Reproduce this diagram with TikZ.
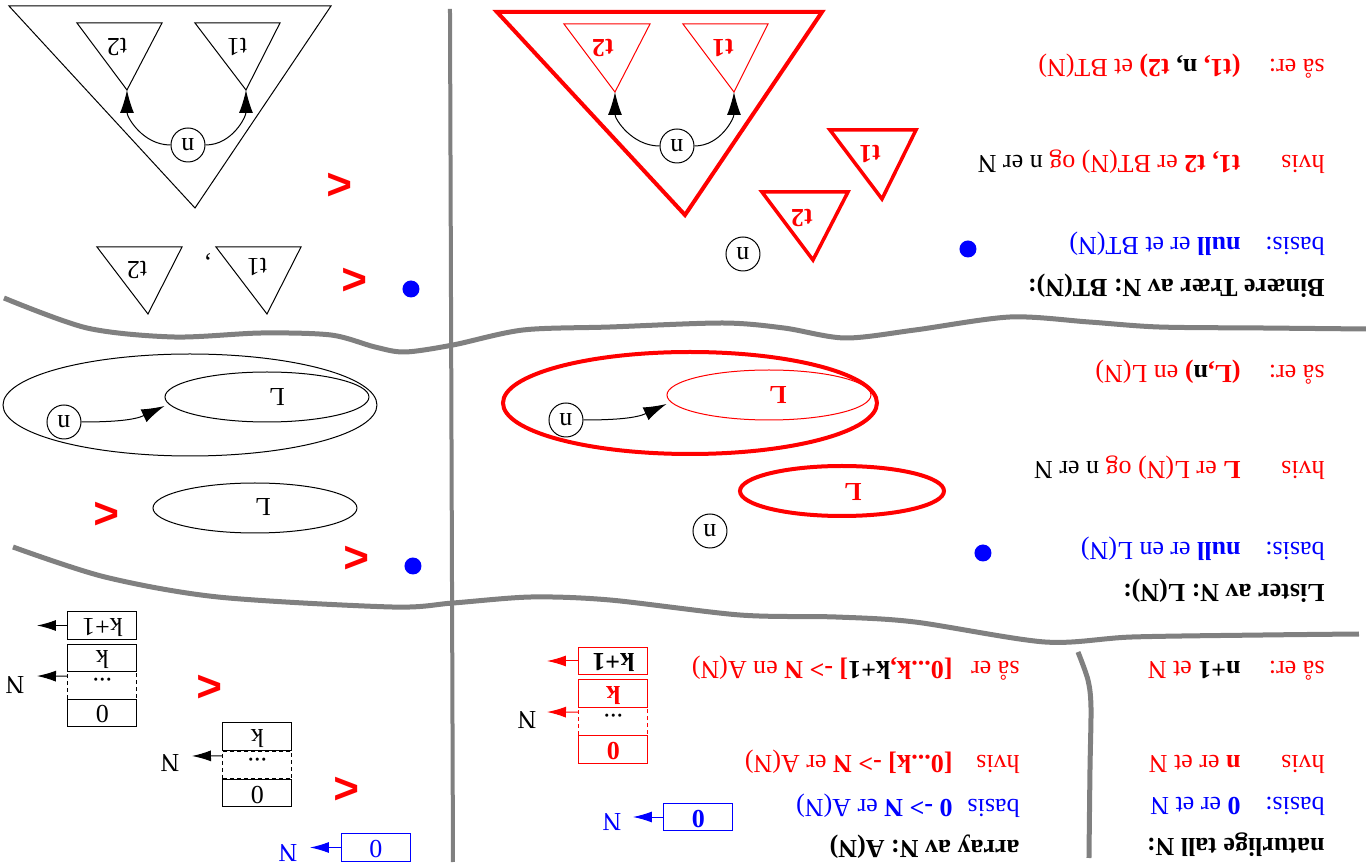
\documentclass[tikz,border=0pt]{standalone}
\usepackage{fontspec}
\setmainfont{Liberation Serif}[Scale=1.3]
\setsansfont{Liberation Sans}
\usetikzlibrary{arrows.meta,shapes.geometric}
\definecolor{skille}{HTML}{808080}

\begin{document}
\begin{tikzpicture}[x=0.5pt,y=0.5pt,rotate=180,transform shape,
    txt/.style={anchor=base west,inner sep=0pt},
    pil/.style={-{Latex[length=9.5pt,width=5.5pt]},line width=0.5pt},
    pilstor/.style={-{Latex[length=11.5pt,width=7pt]},line width=0.5pt},
    celle/.style={draw,minimum width=34.5pt,minimum height=13.75pt,inner sep=0pt,text height=9pt,text depth=2pt,line width=0.5pt},
    prikket/.style={dash pattern=on 2pt off 1.5pt},
    prikk/.style={circle,fill=blue,minimum size=8.5pt,inner sep=0pt},
    nod/.style={circle,draw,minimum size=17pt,inner sep=0pt,line width=0.5pt},
    liste/.style={ellipse,draw,minimum width=102pt,minimum height=25pt,inner sep=0pt},
    stor/.style={ellipse,draw,minimum width=187pt,minimum height=51pt,inner sep=0pt},
    mindre/.style={red,font=\sffamily\bfseries\fontsize{22}{22}\selectfont},
    skillelinje/.style={skille,line width=2.5pt}]
  \useasboundingbox (0,0) rectangle (1366,865);

  % skillelinjer
  \draw[skillelinje,line width=2pt] (916,9) -- (913,862);
  \draw[skillelinje] plot[smooth] coordinates {(1362,298) (1279,328) (1192,337) (1105,333) (1035,335) (991,347) (961,352) (913,345) (843,330) (756,327) (643,323) (582,328) (521,338) (451,330) (356,317) (277,322) (207,327) (103,328) (0,329)};
  \draw[skillelinje] plot[smooth] coordinates {(1353,547) (1261,577) (1148,597) (974,607) (913,603) (835,597) (756,600) (626,615) (530,617) (451,622) (321,642) (234,637) (103,635) (7,634)};
  \draw[skillelinje] plot[smooth] coordinates {(288,652) (278,680) (275,707) (276,770) (277,858)};

  % naturlige tall
  \node[txt,font=\bfseries] (nat) at (41,838) {naturlige tall N:};
  \node[txt,blue] (natb) at (41,798) {basis:};
  \node[txt,blue] (natbv) at (125,798) {\textbf{0} er et N};
  \node[txt,red] (nath) at (41,755) {hvis};
  \node[txt,red] (nathv) at (125,755) {\textbf{n} er et N};
  \node[txt,red] (nats) at (41,662) {så er:};
  \node[txt,red] (natsv) at (125,662) {\textbf{\color{black}n+1} et N};

  % array av N
  \node[txt,font=\bfseries] (arrt) at (346,840) {array av N: A(N)};
  \node[txt,blue] (arrb) at (346,799) {basis};
  \node[txt,blue] (arrbv) at (413,799) {\textbf{0 -> N} er A(N)};
  \node[txt,red] (arrh) at (346,755) {hvis};
  \node[txt,red] (arrhv) at (413,755) {\textbf{[0...k] -> N} er A(N)};
  \node[txt,red] (arrs) at (346,662) {så er};
  \node[txt,red] (arrsv) at (413,662) {\textbf{[0...k,{\color{black}k+1}] -> N} en A(N)};

  \node[celle,blue,font=\bfseries] (b0) at (667.5,817) {0};
  \coordinate (b0N) at (733,817);
  \draw[pil,blue] (b0.east) -- (b0N);
  \node[blue] (bN) at (754,822) {N};

  \node[celle,red,prikket] (rprikk) at (752.5,721.5) {\color{black}...};
  \node[celle,red,font=\bfseries] (r0) at (752.5,749.5) {0};
  \node[celle,red,font=\bfseries] (rk) at (752.5,693.5) {k};
  \node[celle,red,font=\bfseries,text=black] (rk1) at (752.5,661) {k+1};
  \coordinate (rN1) at (819,661);
  \coordinate (rN2) at (819,712);
  \draw[pil,red] (rk1.east) -- (rN1);
  \draw[pil,red] ([yshift=2.5pt]rprikk.south east) -- (rN2);
  \node (rN) at (839,720) {N};

  \node[celle,blue] (s0) at (990,847.5) {0};
  \coordinate (s0N) at (1056,847.5);
  \draw[pil,blue] (s0.east) -- (s0N);
  \node[blue] (sN) at (1078,853) {N};
  \node[mindre] (m1) at (1019,788) {<};

  \node[celle,prikket] (tprikk) at (1108.5,765) {...};
  \node[celle] (t0) at (1108.5,793) {0};
  \node[celle] (tk) at (1108.5,736.5) {k};
  \coordinate (tN1) at (1174,756);
  \draw[pil] ([yshift=2.5pt]tprikk.south east) -- (tN1);
  \node (tN) at (1196,763) {N};
  \node[mindre] (m2) at (1156,686) {<};

  \node[celle,prikket] (uprikk) at (1263.5,685.5) {...};
  \node[celle] (u0) at (1263.5,713) {0};
  \node[celle] (uk) at (1263.5,658) {k};
  \node[celle] (uk1) at (1263.5,625.5) {k+1};
  \coordinate (uN1) at (1329,625.5);
  \coordinate (uN2) at (1329,676);
  \draw[pil] (uk1.east) -- (uN1);
  \draw[pil] ([yshift=2.5pt]uprikk.south east) -- (uN2);
  \node (uN) at (1351,685) {N};

  % lister av N
  \node[txt,font=\bfseries] (lst) at (41,585) {Lister av N: L(N):};
  \node[txt,blue] (lstb) at (41,543) {basis:};
  \node[txt,blue] (lstbv) at (125,543) {\textbf{null} er en L(N)};
  \node[txt,red] (lsth) at (41,462) {hvis};
  \node[txt,red] (lsthv) at (125,462) {\textbf{L} er L(N) og {\color{black}n er N}};
  \node[txt,red] (lsts) at (41,366) {så er:};
  \node[txt,red] (lstsv) at (125,366) {\textbf{(L,{\color{black}n})} en L(N)};

  \node[prikk] (lp1) at (383,553) {};
  \node[nod] (ln1) at (656,531) {n};
  \node[liste,red,line width=2pt] (ll1) at (524,491) {};
  \node[red,font=\bfseries] (ll1t) at (513,492) {L};

  \node[stor,red,line width=2pt] (ls1) at (676,403) {};
  \node[liste,red,line width=0.5pt] (ll2) at (597,395) {};
  \node[red,font=\bfseries] (ll2t) at (588,395) {L};
  \node[nod] (ln2) at (800,420) {n};
  \draw[pilstor] (ln2.west) to[out=180,in=25] ([yshift=4.5pt]ll2.east);

  \node[prikk] (lp2) at (953,566) {};
  \node[mindre] (m3) at (1009,557) {<};
  \node[liste,line width=0.5pt] (ll3) at (1111,508) {};
  \node (ll3t) at (1103,507) {L};
  \node[mindre] (m4) at (1259,513) {<};

  \node[stor,line width=0.5pt] (ls2) at (1176,405) {};
  \node[liste,line width=0.5pt] (ll4) at (1099,397) {};
  \node (ll4t) at (1089,397) {L};
  \node[nod] (ln3) at (1302,422) {n};
  \draw[pilstor] (ln3.west) to[out=180,in=25] ([yshift=4.5pt]ll4.east);

  % binaere traer av N
  \node[txt,font=\bfseries] (bt) at (41,280) {Binære Trær av N: BT(N):};
  \node[txt,blue] (btb) at (41,238) {basis:};
  \node[txt,blue] (btbv) at (125,238) {\textbf{null} er et BT(N)};
  \node[txt,red] (bth) at (41,156) {hvis};
  \node[txt,red] (bthv) at (125,156) {\textbf{t1, t2} er BT(N) og {\color{black}n er N}};
  \node[txt,red] (bts) at (41,60) {så er:};
  \node[txt,red] (btsv) at (125,60) {\textbf{(t1, {\color{black}n,} t2)} et BT(N)};

  \node[prikk] (bp1) at (398,249) {};
  \node[nod] (bn1) at (623,254) {n};
  \draw[red,line width=1.75pt] (518,192) -- (604,192) -- (553,260) -- cycle;
  \node[red,font=\bfseries] (bt2a) at (564,218) {t2};
  \draw[red,line width=1.75pt] (450,130) -- (536,130) -- (484,199) -- cycle;
  \node[red,font=\bfseries] (bt1a) at (496,154) {t1};

  \draw[red,line width=2pt] (544,12) -- (869,12) -- (681,215) -- cycle;
  \draw[red,line width=0.5pt] (598,24) -- (683,24) -- (632,92) coordinate (rt1top) -- cycle;
  \draw[red,line width=0.5pt] (716,24) -- (802,24) -- (751,92) coordinate (rt2top) -- cycle;
  \node[red,font=\bfseries] (bt1b) at (643,48) {t1};
  \node[red,font=\bfseries] (bt2b) at (763,48) {t2};
  \node[nod] (bn2) at (689,146) {n};
  \draw[pilstor] (bn2.west) to[out=180,in=90] (rt1top);
  \draw[pilstor] (bn2.east) to[out=0,in=90] (rt2top);

  \node[prikk] (bp2) at (955,289) {};
  \node[mindre] (m5) at (1011,279) {<};
  \draw[line width=0.5pt] (1065,247) -- (1150,247) -- (1099,314) -- cycle;
  \node (bt1c) at (1109,267) {t1};
  \node[anchor=base] (komma) at (1158,258) {,};
  \draw[line width=0.5pt] (1184,247) -- (1269,247) -- (1218,314) -- cycle;
  \node (bt2c) at (1229,270) {t2};
  \node[mindre] (m6) at (1026,184) {<};

  \draw[line width=0.5pt] (1035,6) -- (1357,6) -- (1171,208) -- cycle;
  \draw[line width=0.5pt] (1086,23) -- (1171,23) -- (1120,90) coordinate (bt1top) -- cycle;
  \draw[line width=0.5pt] (1204,23) -- (1289,23) -- (1239,90) coordinate (bt2top) -- cycle;
  \node (bt1d) at (1129,47) {t1};
  \node (bt2d) at (1249,47) {t2};
  \node[nod] (bn3) at (1178,145) {n};
  \draw[pilstor] (bn3.west) to[out=180,in=90] (bt1top);
  \draw[pilstor] (bn3.east) to[out=0,in=90] (bt2top);
\end{tikzpicture}
\end{document}
